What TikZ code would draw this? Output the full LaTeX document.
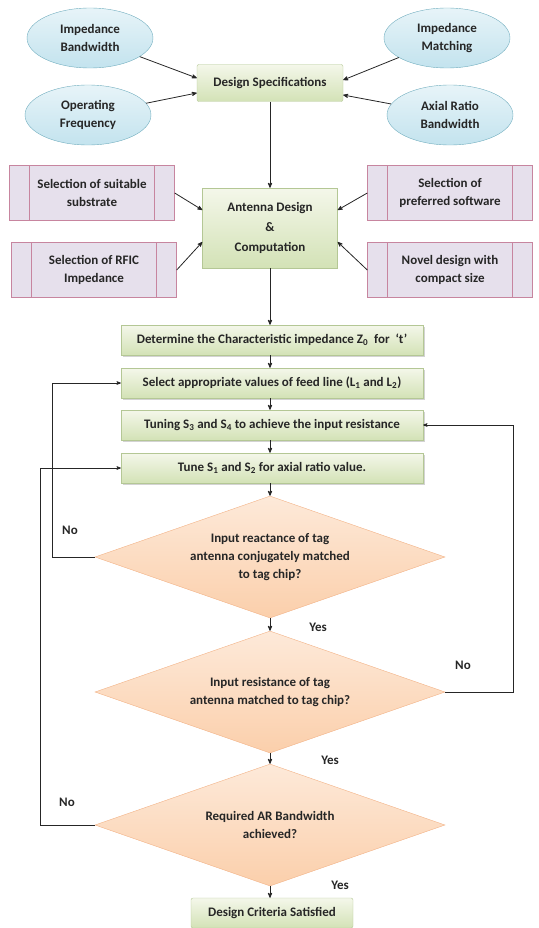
\documentclass[tikz,border=0pt]{standalone}
\usepackage{fontspec}
\setmainfont{Carlito}
\usetikzlibrary{arrows,shapes.geometric,shadows}

\definecolor{ellfill}{HTML}{C3E3EE}
\definecolor{elldraw}{HTML}{72AEBF}
\definecolor{boxtop}{HTML}{F4F7EA}
\definecolor{boxbot}{HTML}{D3E2B6}
\definecolor{boxdraw}{HTML}{B4C795}
\definecolor{selfill}{HTML}{E6E0EC}
\definecolor{seldraw}{HTML}{C7859F}
\definecolor{decfill}{HTML}{FBCFAB}
\definecolor{decdraw}{HTML}{F2B286}
\definecolor{ink}{HTML}{262626}

\begin{document}
\begin{tikzpicture}[x=1pt, y=-1pt, >=stealth', font=\bfseries\fontsize{13}{18}\selectfont, text=ink,
	spec/.style={ellipse, draw=elldraw, top color=ellfill!40, bottom color=ellfill, minimum width=126pt, minimum height=60pt, inner sep=0pt, align=center},
	head/.style={rectangle, rounded corners=2pt, draw=boxdraw, top color=boxtop, bottom color=boxbot, align=center},
	sel/.style={rectangle, draw=seldraw, fill=selfill, minimum width=165pt, minimum height=55pt, align=center,
		path picture={\draw[seldraw] ([xshift=20pt]path picture bounding box.north west) -- ([xshift=20pt]path picture bounding box.south west);
			\draw[seldraw] ([xshift=-20pt]path picture bounding box.north east) -- ([xshift=-20pt]path picture bounding box.south east);}},
	stepbox/.style={rectangle, draw=boxdraw, top color=boxtop, bottom color=boxbot, drop shadow={shadow xshift=1.5pt, shadow yshift=-1.5pt, opacity=0.35}, minimum width=302pt, minimum height=30pt},
	test/.style={diamond, aspect=2.8, inner sep=0pt, draw=decdraw, top color=decfill!45, bottom color=decfill, minimum width=350pt, minimum height=122pt, align=center},
	flow/.style={->, draw=ink, thick},
	back/.style={->, draw=ink, semithick}]
	\useasboundingbox (0,0) rectangle (538,928);

	% Specification inputs
	\node [spec] (imbw)    at (90,38)   {Impedance\\Bandwidth};
	\node [spec] (opfreq)  at (88,115)  {Operating\\Frequency};
	\node [spec] (immatch) at (447,38)  {Impedance\\Matching};
	\node [spec] (arbw)    at (450,115) {Axial Ratio\\Bandwidth};
	\node [head, minimum width=146pt, minimum height=37pt] (specs) at (270,83) {Design Specifications};

	% Design inputs
	\node [head, rounded corners=0pt, minimum width=135pt, minimum height=80pt, font=\bfseries\fontsize{13}{20}\selectfont] (design) at (270,228) {Antenna Design\\\&\\Computation};
	\node [sel] (substrate) at (92,193)  {Selection of suitable\\substrate};
	\node [sel] (rfic)      at (94,270)  {Selection of RFIC\\Impedance};
	\node [sel] (software)  at (450,193) {Selection of\\preferred software};
	\node [sel] (novel)     at (450,270) {Novel design with\\compact size};

	% Steps and tests
	\node [stepbox] (charimp) at (272,340) {Determine the Characteristic impedance Z\textsubscript{0} \ for \ ‘t’};
	\node [stepbox] (feed)    at (272,383) {Select appropriate values of feed line (L\textsubscript{1} and L\textsubscript{2})};
	\node [stepbox] (tune34)  at (272,425) {Tuning S\textsubscript{3} and S\textsubscript{4} to achieve the input resistance};
	\node [stepbox] (tune12)  at (272,468) {Tune S\textsubscript{1} and S\textsubscript{2} for axial ratio value.};
	\node [test] (reactance)  at (270,557) {Input reactance of tag\\antenna conjugately matched\\to tag chip?};
	\node [test] (resistance) at (270,692) {Input resistance of tag\\antenna matched to tag chip?};
	\node [test] (artest)     at (270,825) {Required AR Bandwidth\\achieved?};
	\node [head, minimum width=162pt, minimum height=30pt] (done) at (272,913) {Design Criteria Satisfied};

	% Labels
	\node (no1)  at (70,530)  {No};
	\node (no2)  at (463,665) {No};
	\node (no3)  at (67,802)  {No};
	\node (yes1) at (318,627) {Yes};
	\node (yes2) at (330,760) {Yes};
	\node (yes3) at (340,885) {Yes};

	% Paths
	\draw [flow] (imbw)    -- ([yshift=5pt]specs.west);
	\draw [flow] (opfreq)  -- ([yshift=-10pt]specs.west);
	\draw [flow] (immatch) -- ([yshift=3pt]specs.east);
	\draw [flow] (arbw)    -- ([yshift=-12pt]specs.east);
	\draw [flow] (specs)   -- (design);
	\draw [flow] (substrate.east) -- ([yshift=18pt]design.west);
	\draw [flow] (rfic.east)      -- ([yshift=-14pt]design.west);
	\draw [flow] (software.west)  -- ([yshift=18pt]design.east);
	\draw [flow] (novel.west)     -- ([yshift=-14pt]design.east);
	\draw [flow] (design.south) -- (design.south |- charimp.north);
	\draw [flow] (design.south |- charimp.south) -- (design.south |- feed.north);
	\draw [flow] (design.south |- feed.south) -- (design.south |- tune34.north);
	\draw [flow] (design.south |- tune34.south) -- (design.south |- tune12.north);
	\draw [flow] (design.south |- tune12.south) -- (reactance.north);
	\draw [flow] (reactance.south) -- (resistance.north);
	\draw [flow] (resistance.south) -- (artest.north);
	\draw [flow] (artest.south) -- (artest.south |- done.north);

	\draw [back] (reactance.west) -- ++(-43,0) |- (feed.west);
	\draw [back] (resistance.east) -- ++(68,0) |- (tune34.east);
	\draw [back] (artest.west) -- ++(-55,0) |- (tune12.west);
\end{tikzpicture}
\end{document}
